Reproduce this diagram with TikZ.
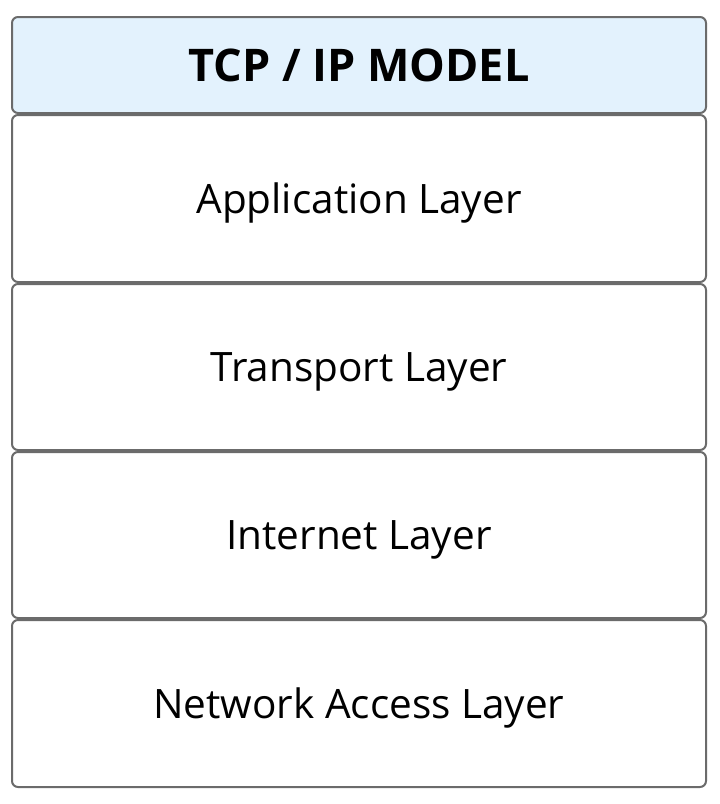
\documentclass[tikz,border=0pt]{standalone}
\usepackage{fontspec}
\setmainfont{Open Sans}
\usepackage{tikz}
\usetikzlibrary{positioning}

\definecolor{headblue}{HTML}{E3F2FD}
\definecolor{edgegray}{HTML}{6B6B6B}

\tikzset{
  box/.style={draw=edgegray,line width=2pt,rounded corners=6pt,fill=white,
    minimum width=694pt,inner sep=0pt,outer sep=0pt},
  layerbox/.style={box,text depth=0pt,font=\fontsize{40.5}{44}\selectfont},
  headbox/.style={box,fill=headblue,minimum height=96pt,
    font=\fontsize{45}{50}\selectfont\bfseries}
}

\begin{document}
\begin{tikzpicture}[x=1pt,y=1pt]
\useasboundingbox (0,0) rectangle (720,-804);

% Title box
\node[headbox] (head) at (359,-65) {TCP / IP MODEL};

% Layers, stacked
\node[layerbox,minimum height=167pt,below=2pt of head] (app) {Application Layer};
\node[layerbox,minimum height=166pt,below=2pt of app] (trans) {Transport Layer};
\node[layerbox,minimum height=166pt,below=2pt of trans] (inet) {Internet Layer};
\node[layerbox,minimum height=167pt,below=2pt of inet] (net) {Network Access Layer};
\end{tikzpicture}
\end{document}
